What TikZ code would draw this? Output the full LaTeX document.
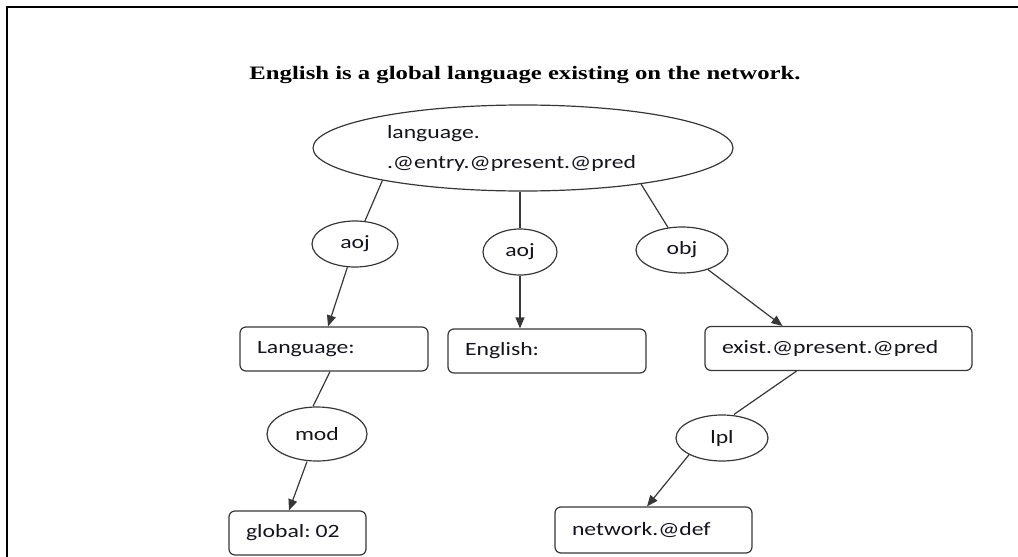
\documentclass[tikz,border=0pt]{standalone}
\usepackage{fontspec}
\usetikzlibrary{shapes.geometric,arrows.meta}
\newfontfamily\labelfont[FakeStretch=1.26]{Carlito}
\newfontfamily\titlefont[FakeStretch=1.30]{Liberation Serif}
\definecolor{linegray}{RGB}{55,55,55}
\definecolor{inkcol}{RGB}{20,20,30}
\begin{document}
\begin{tikzpicture}[x=1pt,y=-1pt,
  lbl/.style={font=\labelfont\fontsize{18.8}{30}\selectfont, text=inkcol},
  rel/.style={ellipse, draw=linegray, line width=1.2pt, inner sep=0pt, lbl},
  box/.style={rectangle, rounded corners=6pt, draw=linegray, line width=1.2pt,
              inner xsep=17pt, inner ysep=0pt, minimum height=44pt, align=left, lbl},
  link/.style={draw=linegray, line width=1.2pt},
  arr/.style={link, -{Triangle[length=11pt,width=9pt]}}]
\useasboundingbox (0,0) rectangle (1018,557);

% outer frame
\draw[line width=1.6pt, black] (7,557) -- (7,7) -- (1018,7);

% heading
\node[font=\titlefont\bfseries\fontsize{19}{22}\selectfont] (title) at (525,75)
  {English is a global language existing on the network.};

% root concept
\node[rel, minimum width=420pt, minimum height=86pt, text width=272pt, align=left] (root) at (523,148)
  {language.\\.@entry.@present.@pred};

% relation labels
\node[rel, minimum width=86pt, minimum height=46pt] (aoja) at (355,244) {aoj};
\node[rel, minimum width=74pt, minimum height=46pt] (aojb) at (520,252) {aoj};
\node[rel, minimum width=92pt, minimum height=46pt] (obj)  at (682,250) {obj};
\node[rel, minimum width=100pt, minimum height=54pt] (mod) at (317,434) {mod};
\node[rel, minimum width=92pt, minimum height=46pt] (lpl)  at (722,438) {lpl};

% concept boxes
\node[box, text width=154pt] (lang)    at (334,349)   {Language:};
\node[box, text width=164pt] (eng)     at (547,351)   {English:};
\node[box, text width=233pt] (exist)   at (838.5,348.5) {exist.@present.@pred};
\node[box, text width=103pt] (glob)    at (297.5,533) {global:\hspace{5pt}02};
\node[box, text width=163pt, minimum height=46pt] (net) at (653.5,530) {network.@def};

% connectors
\draw[link] (root.193) -- (aoja);
\draw[link] (aojb.north |- root.south) -- (aojb.north);
\draw[link] (root.343) -- (obj);
\draw[arr] (aoja) -- ([xshift=-6pt]lang.north);
\draw[arr] (aojb) -- (aojb |- eng.north);
\draw[arr] (obj) -- ([xshift=-56pt]exist.north);
\draw[link] ([xshift=-4pt]lang.south) -- ([xshift=-4pt]mod.north);
\draw[arr] ([xshift=-10pt]mod.south) -- ([xshift=-8.5pt]glob.north);
\draw[link] ([xshift=-42pt]exist.south) -- ([xshift=12pt]lpl.north);
\draw[arr] (lpl.south west) -- ([xshift=-6.5pt]net.north);
\end{tikzpicture}
\end{document}
